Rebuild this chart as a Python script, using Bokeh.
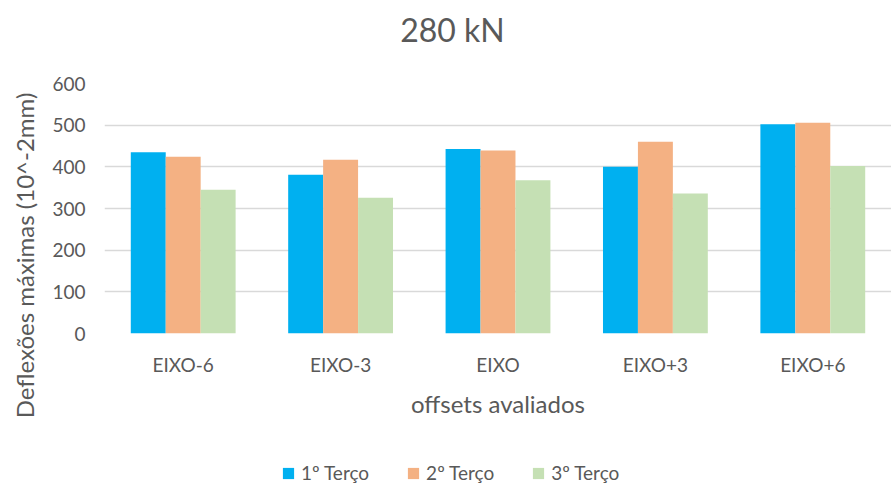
from bokeh.plotting import figure
from bokeh.layouts import column, row
from bokeh.models import (ColumnDataSource, FactorRange, Range1d, Legend, LegendItem,
                          Label, FixedTicker)
from bokeh.transform import dodge
from bokeh.embed import file_html
from bokeh.resources import INLINE

categories = ["EIXO-6", "EIXO-3", "EIXO", "EIXO+3", "EIXO+6"]
terco1 = [435, 381, 443, 400, 502]
terco2 = [424, 417, 439, 460, 506]
terco3 = [345, 326, 368, 336, 402]
series_names = ["1º Terço", "2º Terço", "3º Terço"]
series_colors = ["#00B0F0", "#F4B183", "#C5E0B4"]
y_ticks = [0, 100, 200, 300, 400, 500, 600]
chart_title = "280 kN"
x_title = "offsets avaliados"
y_title = "Deflexões máximas (10^-2mm)"

FONT = "Lato"
TXT = "#595959"
LEFT = 64  # left border shared by the stacked figures


def blank(w, h, left=0, x_range=None):
    f = figure(width=w, height=h,
               x_range=x_range if x_range is not None else Range1d(0, w - left),
               y_range=Range1d(0, h),
               x_axis_type=None, y_axis_type=None, output_backend="svg",
               toolbar_location=None, min_border=0, min_border_left=left)
    f.outline_line_color = None
    f.grid.visible = False
    return f


src = ColumnDataSource(dict(cat=categories, t1=terco1, t2=terco2, t3=terco3))

# ---- y-axis title strip (full height, left)
ystrip = blank(40, 485)
ystrip.add_layout(Label(x=24, y=230, text=y_title, angle=90, angle_units="deg",
                        text_align="center", text_baseline="middle", text_font=FONT,
                        text_font_size="24px", text_color=TXT))

# ---- header with chart title
head = blank(851, 60, left=LEFT)
head.add_layout(Label(x=348, y=31, text=chart_title, text_align="center",
                      text_baseline="middle", text_font=FONT, text_font_size="32px",
                      text_color=TXT))

# ---- main chart
p = figure(width=851, height=385,
           x_range=FactorRange(*categories, range_padding=0),
           y_range=Range1d(0, 600),
           output_backend="svg", toolbar_location=None,
           min_border_left=LEFT, min_border_right=0,
           min_border_top=23, min_border_bottom=112)
p.outline_line_color = None

bw = 0.222
for col, off, color in zip(["t1", "t2", "t3"], [-bw, 0, bw], series_colors):
    p.vbar(x=dodge("cat", off, range=p.x_range), top=col, width=bw,
           source=src, fill_color=color, line_color=None)

p.xgrid.grid_line_color = None
p.ygrid.grid_line_color = "#D9D9D9"
p.ygrid.grid_line_width = 1.3
p.yaxis.ticker = FixedTicker(ticks=y_ticks)

p.yaxis.axis_line_color = None
p.yaxis.major_tick_line_color = None
p.yaxis.minor_tick_line_color = None
p.yaxis.major_label_standoff = 13
p.yaxis.major_label_text_font = FONT
p.yaxis.major_label_text_font_size = "19px"
p.yaxis.major_label_text_color = TXT

p.xaxis.axis_line_color = None
p.xaxis.major_tick_line_color = None
p.xaxis.minor_tick_line_color = None
p.xaxis.major_label_standoff = 13
p.xaxis.major_label_text_font = FONT
p.xaxis.major_label_text_font_size = "19px"
p.xaxis.major_label_text_color = TXT
p.xaxis.axis_label = x_title
p.xaxis.axis_label_text_font = FONT
p.xaxis.axis_label_text_font_size = "24px"
p.xaxis.axis_label_text_font_style = "normal"
p.xaxis.axis_label_text_color = TXT
p.xaxis.axis_label_standoff = 10

# ---- legend strip (legend keys taken from hidden copies of the series)
lg = blank(851, 40, left=LEFT, x_range=FactorRange(*categories))
items = []
for name, col, color in zip(series_names, ["t1", "t2", "t3"], series_colors):
    r = lg.vbar(x="cat", top=col, width=0.2, source=src, fill_color=color,
                line_color=None, visible=False)
    items.append(LegendItem(label=name, renderers=[r]))
legend = Legend(items=items, orientation="horizontal", location=(177, 1))
legend.label_text_font = FONT
legend.label_text_font_size = "19px"
legend.label_text_color = TXT
legend.glyph_width = 14
legend.glyph_height = 14
legend.spacing = 37
legend.label_standoff = 6
legend.padding = 0
legend.margin = 0
legend.border_line_color = None
legend.background_fill_alpha = 0
legend.inactive_fill_alpha = 0
lg.add_layout(legend)

layout = row(ystrip, column(head, p, lg))
open("out.html", "w").write(file_html(layout, INLINE))
